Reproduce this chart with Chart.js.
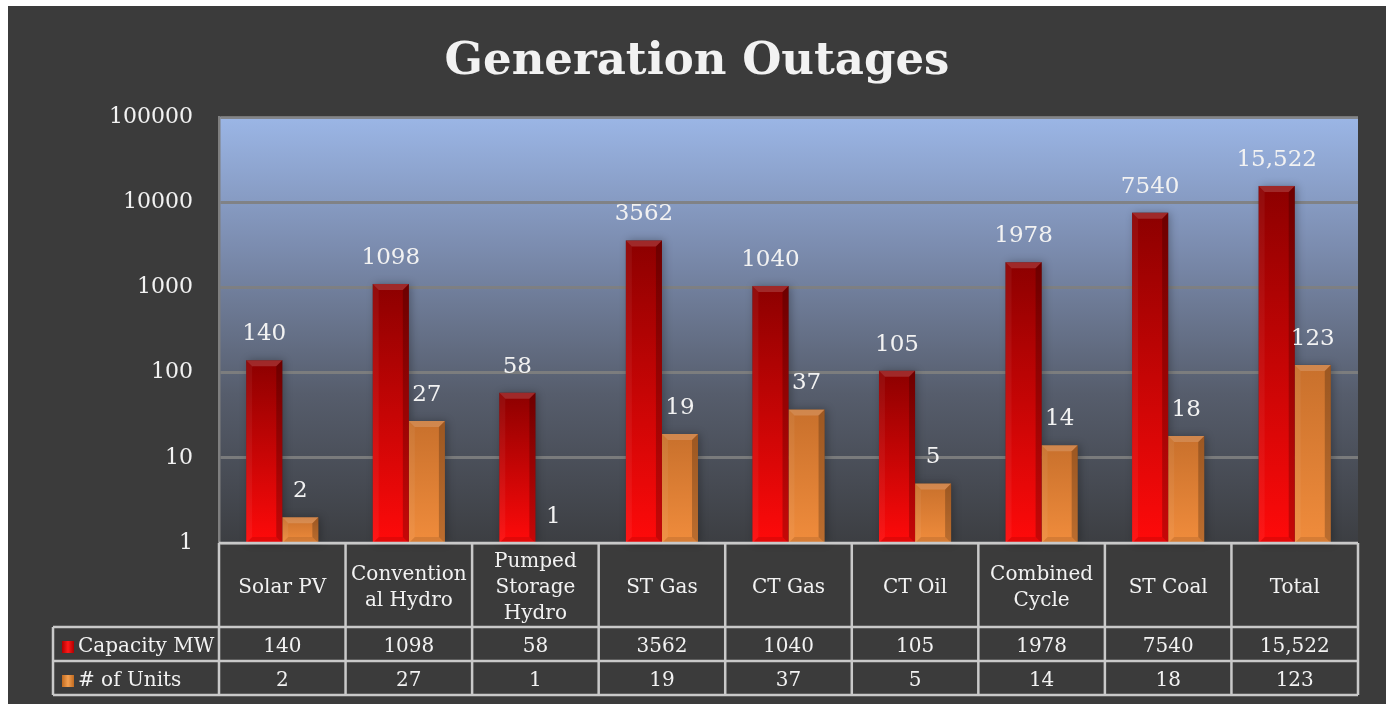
<!DOCTYPE html>
<html>
<head>
<meta charset="utf-8">
<title>Generation Outages</title>
<script src="https://cdn.jsdelivr.net/npm/chart.js@4.4.1/dist/chart.umd.min.js"></script>
<style>
  body { margin: 0; background: #ffffff; }
  .chart_box {
    position: absolute;
    left: 8px;
    top: 6px;
    width: 1378px;
    height: 698px;
    background: #3b3b3b;
  }
</style>
</head>
<body>
<div class="chart_box"><canvas id="outages_chart"></canvas></div>
<script>
// ! Data
let categories = [
  "Solar PV",
  ["Convention", "al Hydro"],
  ["Pumped", "Storage", "Hydro"],
  "ST Gas",
  "CT Gas",
  "CT Oil",
  ["Combined", "Cycle"],
  "ST Coal",
  "Total",
];
let capacityMW = [140, 1098, 58, 3562, 1040, 105, 1978, 7540, 15522];
let unitCount = [2, 27, 1, 19, 37, 5, 14, 18, 123];
let seriesNames = ["Capacity MW", "# of Units"];
let yTickValues = [1, 10, 100, 1000, 10000, 100000];

const serif = "'DejaVu Serif', 'Liberation Serif', serif";
const textColor = "#f2f2f2";
const tableLine = "#c9c9c9";

// number like the sheet shows it: comma only for 5 digits
const fmt = (v) => (v >= 10000 ? v.toLocaleString("en-US") : String(v));

// ! Bar fills (vertical gradient per bar)
const barGradient = (colors) => (context) => {
  let chart = context.chart;
  let area = chart.chartArea;
  if (!area || context.raw === undefined) return colors[1];
  let y = chart.scales.y;
  let top = y.getPixelForValue(context.raw);
  let bottom = y.getPixelForValue(1);
  if (bottom - top < 1) return colors[1];
  let g = chart.ctx.createLinearGradient(0, top, 0, bottom);
  g.addColorStop(0, colors[0]);
  g.addColorStop(1, colors[1]);
  return g;
};

// ! Plot background
const plotBackground = {
  id: "plotBackground",
  beforeDraw(chart) {
    let { ctx, chartArea: a } = chart;
    let g = ctx.createLinearGradient(0, a.top, 0, a.bottom);
    g.addColorStop(0, "#9bb6e6");
    g.addColorStop(0.3, "#7c8db0");
    g.addColorStop(0.65, "#565d6c");
    g.addColorStop(1, "#3c3e42");
    ctx.save();
    ctx.fillStyle = g;
    ctx.fillRect(a.left, a.top, a.width, a.height);
    ctx.restore();
  },
};

// ! Bevel + shadow on bars, value labels
const bevelBars = {
  id: "bevelBars",
  beforeDatasetsDraw(chart) {
    let ctx = chart.ctx;
    ctx.save();
    ctx.shadowColor = "rgba(0,0,0,0.45)";
    ctx.shadowBlur = 8;
    ctx.shadowOffsetX = 2;
    ctx.fillStyle = "rgba(40,40,40,0.6)";
    chart.data.datasets.forEach((ds, i) => {
      chart.getDatasetMeta(i).data.forEach((bar) => {
        let h = bar.base - bar.y;
        if (h < 1) return;
        ctx.fillRect(bar.x - bar.width / 2, bar.y, bar.width, h);
      });
    });
    ctx.restore();
  },
  afterDatasetsDraw(chart) {
    let ctx = chart.ctx;
    ctx.save();
    chart.data.datasets.forEach((ds, i) => {
      chart.getDatasetMeta(i).data.forEach((bar, j) => {
        let l = bar.x - bar.width / 2;
        let r = bar.x + bar.width / 2;
        let t = bar.y;
        let b = bar.base;
        let s = Math.min(6, (b - t) / 2, bar.width / 2);
        if (s > 0.5) {
          const face = (pts, color) => {
            ctx.beginPath();
            ctx.moveTo(pts[0], pts[1]);
            for (let k = 2; k < pts.length; k += 2) ctx.lineTo(pts[k], pts[k + 1]);
            ctx.closePath();
            ctx.fillStyle = color;
            ctx.fill();
          };
          face([l, t, r, t, r - s, t + s, l + s, t + s], "rgba(255,255,255,0.16)");
          face([l, t, l + s, t + s, l + s, b - s, l, b], "rgba(255,255,255,0.05)");
          face([r, t, r, b, r - s, b - s, r - s, t + s], "rgba(0,0,0,0.22)");
          face([l, b, l + s, b - s, r - s, b - s, r, b], "rgba(0,0,0,0.1)");
        }
        // value label
        ctx.fillStyle = textColor;
        ctx.font = "23px " + serif;
        ctx.textAlign = "center";
        ctx.textBaseline = "middle";
        ctx.fillText(fmt(ds.data[j]), bar.x, bar.y - 26);
      });
    });
    ctx.restore();
  },
};

// ! Data table under the plot
const dataTable = {
  id: "dataTable",
  afterDraw(chart) {
    let { ctx, chartArea: a, scales } = chart;
    let x = scales.x;
    let n = categories.length;
    let edges = [];
    for (let i = 0; i <= n; i++) edges.push(x.getPixelForValue(i - 0.5));
    let headTop = a.bottom;
    let headBottom = headTop + 84;
    let rowH = 34;
    let tableBottom = headBottom + rowH * 2;
    let legendLeft = 45;

    ctx.save();
    ctx.strokeStyle = tableLine;
    ctx.lineWidth = 2.5;
    ctx.beginPath();
    // horizontal lines
    ctx.moveTo(edges[0], headTop);
    ctx.lineTo(edges[n], headTop);
    for (let r = 0; r <= 2; r++) {
      let yy = headBottom + r * rowH;
      ctx.moveTo(legendLeft, yy);
      ctx.lineTo(edges[n], yy);
    }
    // vertical lines
    edges.forEach((ex) => {
      ctx.moveTo(ex, headTop);
      ctx.lineTo(ex, tableBottom);
    });
    ctx.moveTo(legendLeft, headBottom);
    ctx.lineTo(legendLeft, tableBottom);
    ctx.stroke();

    ctx.fillStyle = textColor;
    ctx.font = "20px " + serif;
    ctx.textAlign = "center";
    ctx.textBaseline = "middle";
    // header
    categories.forEach((cat, i) => {
      let lines = Array.isArray(cat) ? cat : [cat];
      let cx = (edges[i] + edges[i + 1]) / 2;
      let cy = (headTop + headBottom) / 2 + 3;
      let lh = 26;
      lines.forEach((line, k) => {
        ctx.fillText(line, cx, cy + (k - (lines.length - 1) / 2) * lh);
      });
    });
    // rows
    chart.data.datasets.forEach((ds, r) => {
      let cy = headBottom + rowH * r + rowH / 2 + 3;
      ds.data.forEach((v, i) => {
        ctx.fillText(fmt(v), (edges[i] + edges[i + 1]) / 2, cy);
      });
      // legend key
      let kx = legendLeft + 9;
      let g = ctx.createLinearGradient(kx, 0, kx + 12, 0);
      g.addColorStop(0, ds.keyColors[0]);
      g.addColorStop(0.5, ds.keyColors[1]);
      g.addColorStop(1, ds.keyColors[0]);
      ctx.fillStyle = g;
      ctx.fillRect(kx, cy - 6, 12, 12);
      ctx.fillStyle = textColor;
      ctx.textAlign = "left";
      ctx.fillText(ds.label, kx + 16, cy);
      ctx.textAlign = "center";
    });
    ctx.restore();
  },
};

// ! Chart
const canvas = document.getElementById("outages_chart");
new Chart(canvas, {
  type: "bar",
  data: {
    labels: categories,
    datasets: [
      {
        label: seriesNames[0],
        data: capacityMW,
        backgroundColor: barGradient(["#8c0000", "#ff0a0a"]),
        keyColors: ["#b00000", "#ff1a1a"],
        borderWidth: 0,
      },
      {
        label: seriesNames[1],
        data: unitCount,
        backgroundColor: barGradient(["#c8702c", "#f08c3c"]),
        keyColors: ["#c06a20", "#f5a050"],
        borderWidth: 0,
      },
    ],
  },
  options: {
    responsive: true,
    maintainAspectRatio: false,
    animation: false,
    categoryPercentage: 0.57,
    barPercentage: 1,
    layout: {
      padding: { top: 0, left: 28, right: 28, bottom: 161 },
    },
    plugins: {
      legend: { display: false },
      tooltip: { enabled: false },
      title: {
        display: true,
        text: "Generation Outages",
        color: textColor,
        font: { family: serif, size: 45, weight: "bold", lineHeight: 1.2 },
        padding: { top: 29, bottom: 28 },
      },
    },
    scales: {
      x: {
        display: false,
      },
      y: {
        type: "logarithmic",
        min: 1,
        max: 100000,
        afterFit: (scale) => {
          scale.width = 183;
        },
        afterBuildTicks: (scale) => {
          scale.ticks = yTickValues.map((v) => ({ value: v, major: true }));
        },
        grid: {
          color: "rgba(128,128,128,0.9)",
          lineWidth: 3,
          drawTicks: false,
        },
        border: {
          display: true,
          color: "#7f7f7f",
          width: 2.5,
        },
        ticks: {
          padding: 26,
          color: textColor,
          font: { family: serif, size: 22 },
          callback: (v) => String(v),
        },
      },
    },
  },
  plugins: [plotBackground, bevelBars, dataTable],
});
</script>
</body>
</html>
